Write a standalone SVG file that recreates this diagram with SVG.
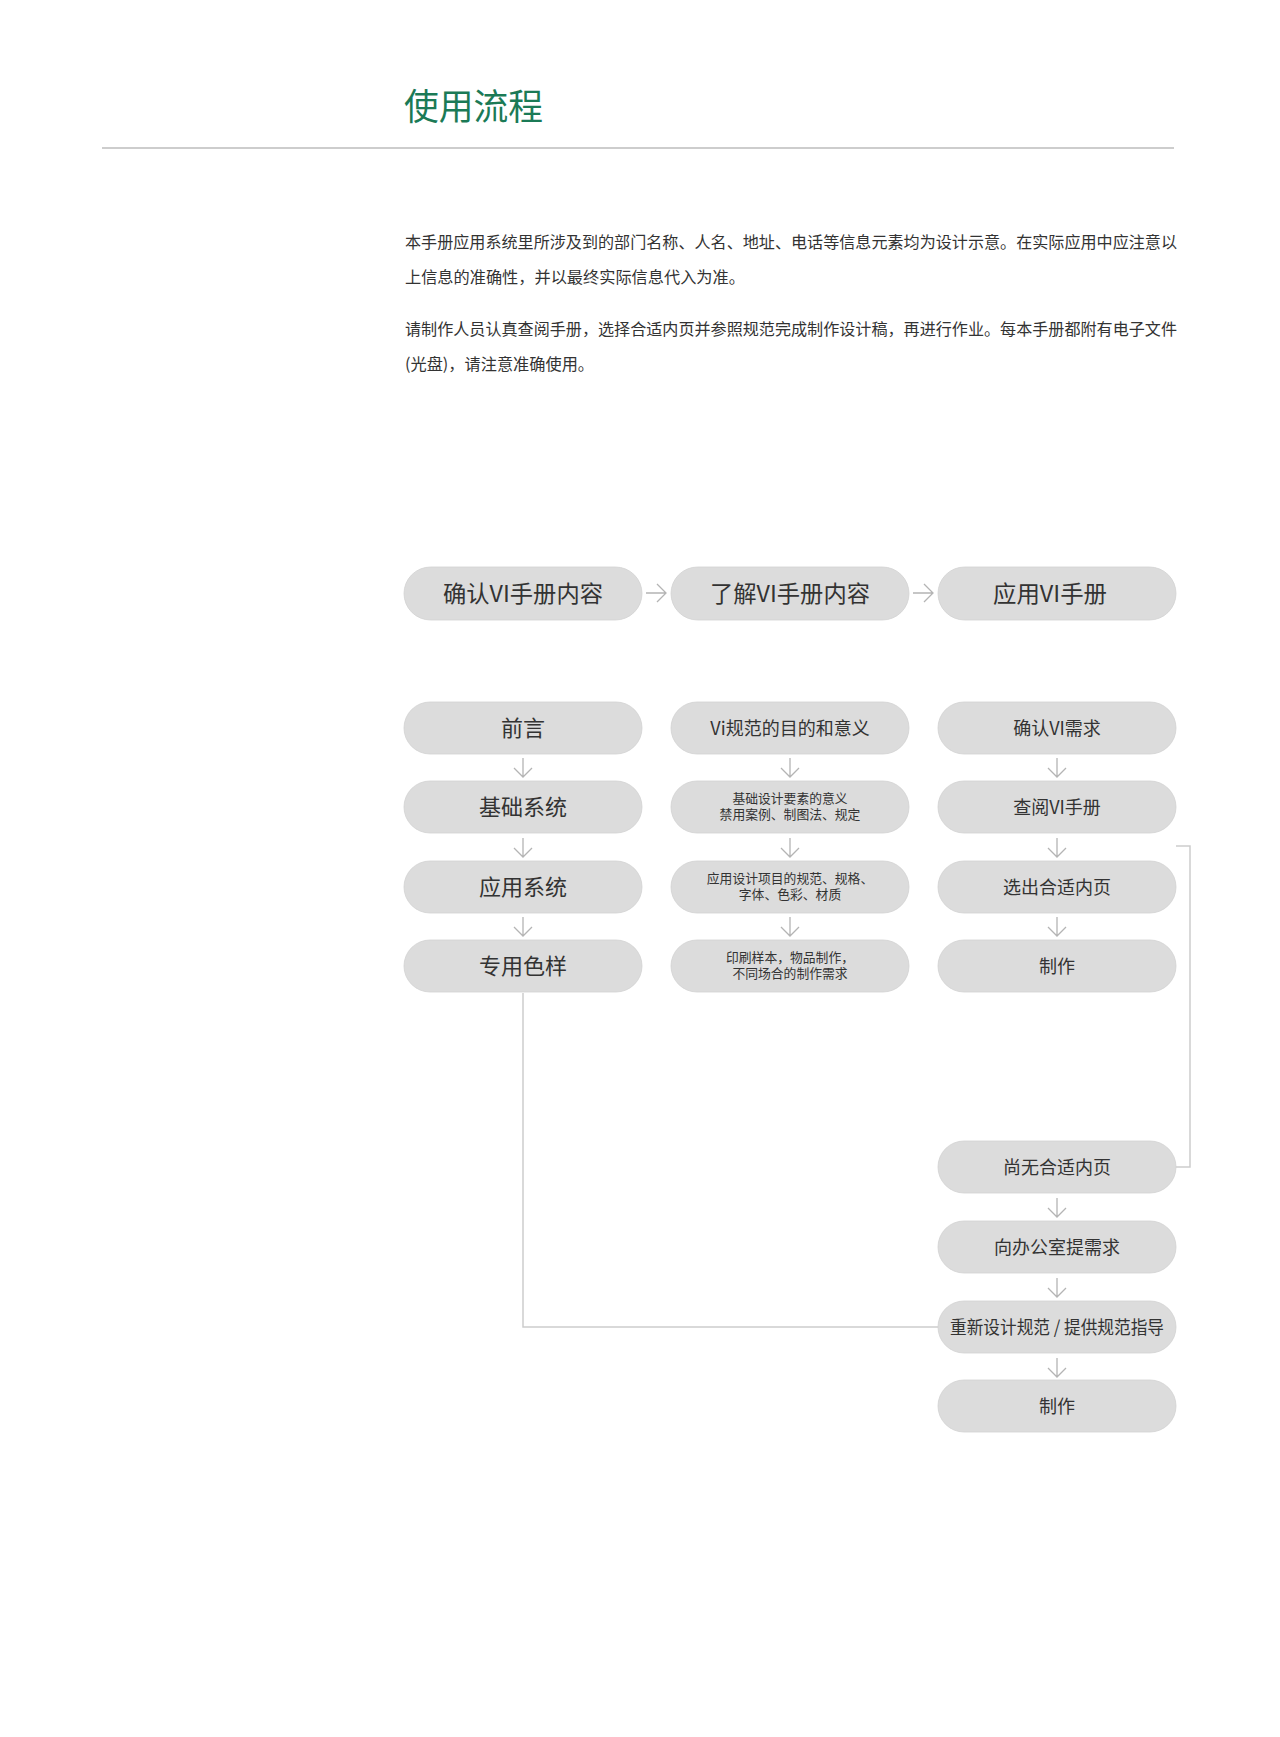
<svg xmlns="http://www.w3.org/2000/svg" width="1280" height="1737" viewBox="0 0 1280 1737">
<style>
text{font-family:"Noto Sans CJK SC","Noto Sans",sans-serif;fill:#333333;}
.pill{fill:#dcdcdc;stroke:#d2d2d2;stroke-width:0.8;}
.t23{font-size:23px;text-anchor:middle;}
.t22{font-size:22px;text-anchor:middle;}
.t18{font-size:18px;text-anchor:middle;}
.t13{font-size:12.8px;text-anchor:middle;}
.p{font-size:16.2px;}
.arr{fill:none;stroke:#b4b4b4;stroke-width:1.3;}
.link{fill:none;stroke:#cdcdcd;stroke-width:1.5;}
</style>
<rect width="1280" height="1737" fill="#ffffff"/>
<g id="header">
<text x="404" y="120" style="font-size:36px;fill:#1b7a56" textLength="139" lengthAdjust="spacingAndGlyphs">使用流程</text>
<line x1="102" y1="148" x2="1174" y2="148" stroke="#bdbdbd" stroke-width="1.5"/>
</g>
<g id="intro">
<text class="p" x="405" y="248" textLength="772" lengthAdjust="spacingAndGlyphs">本手册应用系统里所涉及到的部门名称、人名、地址、电话等信息元素均为设计示意。在实际应用中应注意以</text>
<text class="p" x="405" y="283">上信息的准确性，并以最终实际信息代入为准。</text>
<text class="p" x="405" y="335" textLength="772" lengthAdjust="spacingAndGlyphs">请制作人员认真查阅手册，选择合适内页并参照规范完成制作设计稿，再进行作业。每本手册都附有电子文件</text>
<text class="p" x="405" y="370">(光盘)，请注意准确使用。</text>
</g>
<g id="connectors">
<path class="arr" d="M646,593 H666 M657,584 L666,593 L657,602"/>
<path class="arr" d="M913,593 H933 M924,584 L933,593 L924,602"/>
<path class="arr" d="M523,758 V777 M514,768 L523,777 L532,768"/>
<path class="arr" d="M523,838 V857 M514,848 L523,857 L532,848"/>
<path class="arr" d="M523,917 V936 M514,927 L523,936 L532,927"/>
<path class="arr" d="M790,758 V777 M781,768 L790,777 L799,768"/>
<path class="arr" d="M790,838 V857 M781,848 L790,857 L799,848"/>
<path class="arr" d="M790,917 V936 M781,927 L790,936 L799,927"/>
<path class="arr" d="M1057,758 V777 M1048,768 L1057,777 L1066,768"/>
<path class="arr" d="M1057,838 V857 M1048,848 L1057,857 L1066,848"/>
<path class="arr" d="M1057,917 V936 M1048,927 L1057,936 L1066,927"/>
<path class="arr" d="M1057,1198 V1217 M1048,1208 L1057,1217 L1066,1208"/>
<path class="arr" d="M1057,1278 V1297 M1048,1288 L1057,1297 L1066,1288"/>
<path class="arr" d="M1057,1358 V1377 M1048,1368 L1057,1377 L1066,1368"/>
<path class="link" d="M523,993 V1327 H938"/>
<path class="link" d="M1176,846 H1190 V1167 H1176"/>
</g>
<g id="n-confirm-content"><rect class="pill" x="404" y="567" width="238" height="53" rx="26.5"/><text class="t23" x="523" y="602" textLength="160" lengthAdjust="spacingAndGlyphs">确认VI手册内容</text></g>
<g id="n-know-content"><rect class="pill" x="671" y="567" width="238" height="53" rx="26.5"/><text class="t23" x="790" y="602" textLength="160" lengthAdjust="spacingAndGlyphs">了解VI手册内容</text></g>
<g id="n-apply-manual"><rect class="pill" x="938" y="567" width="238" height="53" rx="26.5"/><text class="t23" x="1050" y="602" textLength="114" lengthAdjust="spacingAndGlyphs">应用VI手册</text></g>

<g id="n-preface"><rect class="pill" x="404" y="702" width="238" height="52" rx="26"/><text class="t22" x="523" y="736">前言</text></g>
<g id="n-basic"><rect class="pill" x="404" y="781" width="238" height="52" rx="26"/><text class="t22" x="523" y="815">基础系统</text></g>
<g id="n-application"><rect class="pill" x="404" y="861" width="238" height="52" rx="26"/><text class="t22" x="523" y="895">应用系统</text></g>
<g id="n-colors"><rect class="pill" x="404" y="940" width="238" height="52" rx="26"/><text class="t22" x="523" y="974">专用色样</text></g>

<g id="n-purpose"><rect class="pill" x="671" y="702" width="238" height="52" rx="26"/><text class="t18" x="790" y="735">Vi规范的目的和意义</text></g>
<g id="n-basic-detail"><rect class="pill" x="671" y="781" width="238" height="52" rx="26"/><text class="t13" x="790" y="803">基础设计要素的意义</text><text class="t13" x="790" y="819">禁用案例、制图法、规定</text></g>
<g id="n-app-detail"><rect class="pill" x="671" y="861" width="238" height="52" rx="26"/><text class="t13" x="790" y="883">应用设计项目的规范、规格、</text><text class="t13" x="790" y="899">字体、色彩、材质</text></g>
<g id="n-print-detail"><rect class="pill" x="671" y="940" width="238" height="52" rx="26"/><text class="t13" x="790" y="962">印刷样本，物品制作，</text><text class="t13" x="790" y="978">不同场合的制作需求</text></g>

<g id="n-confirm-need"><rect class="pill" x="938" y="702" width="238" height="52" rx="26"/><text class="t18" x="1057" y="735">确认VI需求</text></g>
<g id="n-review"><rect class="pill" x="938" y="781" width="238" height="52" rx="26"/><text class="t18" x="1057" y="814">查阅VI手册</text></g>
<g id="n-select"><rect class="pill" x="938" y="861" width="238" height="52" rx="26"/><text class="t18" x="1057" y="894">选出合适内页</text></g>
<g id="n-make1"><rect class="pill" x="938" y="940" width="238" height="52" rx="26"/><text class="t18" x="1057" y="973">制作</text></g>

<g id="n-none"><rect class="pill" x="938" y="1141" width="238" height="52" rx="26"/><text class="t18" x="1057" y="1174">尚无合适内页</text></g>
<g id="n-request"><rect class="pill" x="938" y="1221" width="238" height="52" rx="26"/><text class="t18" x="1057" y="1254">向办公室提需求</text></g>
<g id="n-redesign"><rect class="pill" x="938" y="1301" width="238" height="52" rx="26"/><text class="t18" x="1057" y="1334" textLength="214" lengthAdjust="spacingAndGlyphs">重新设计规范 / 提供规范指导</text></g>
<g id="n-make2"><rect class="pill" x="938" y="1380" width="238" height="52" rx="26"/><text class="t18" x="1057" y="1413">制作</text></g>
</svg>
